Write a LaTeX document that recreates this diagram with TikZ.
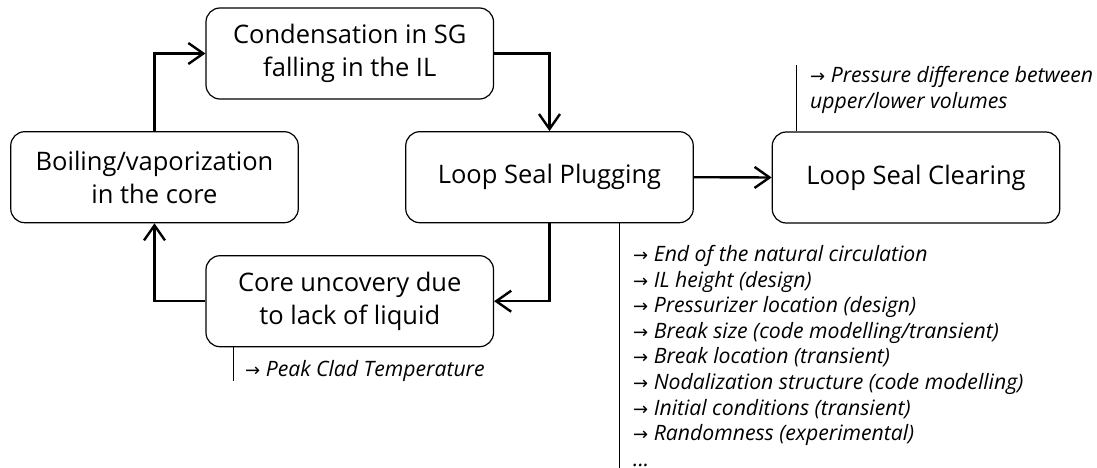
\documentclass[tikz,border=0pt]{standalone}
\usepackage{fontspec}
\setmainfont{Open Sans}
\newfontfamily\arrfont{DejaVu Sans}
\usetikzlibrary{arrows.meta}

\newcommand{\ra}{{\arrfont\upshape\fontsize{18}{18}\selectfont →}}

\begin{document}
\begin{tikzpicture}[x=1pt, y=-1pt,
    box/.style={draw, rounded corners=14pt, line width=1.2pt, minimum width=287.5pt, minimum height=91pt, align=center, inner sep=0pt, font=\fontsize{25.5}{33}\selectfont},
    flow/.style={line width=2.4pt, -{Straight Barb[length=15pt, width=21pt]}},
    note/.style={anchor=north west, align=left, inner sep=0pt, font=\fontsize{21.2}{25.6}\selectfont\itshape},
    tick/.style={line width=0.9pt}]
    \useasboundingbox (0,0) rectangle (1097,468);

    \node[box] (cond) at (349.75,53.5) {Condensation in SG\\falling in the IL};
    \node[box] (boil) at (154.5,177.2) {Boiling/vaporization\\in the core};
    \node[box] (plug) at (549.5,177.2) {Loop Seal Plugging};
    \node[box] (clear) at (916,177.5) {Loop Seal Clearing};
    \node[box] (uncov) at (349.75,301.2) {Core uncovery due\\to lack of liquid};

    % Main loop
    \draw[flow] (boil.north) |- (cond.west);
    \draw[flow] (cond.east) -| (plug.north);
    \draw[flow] (plug.east) -- (clear.west);
    \draw[flow] (plug.south) |- (uncov.east);
    \draw[flow] (uncov.west) -| (boil.south);

    % Notes
    \coordinate (clrend) at (796.5,65);
    \draw[tick] (clear.north -| clrend) -- (clrend);
    \node[note] (clrnote) at (810,66) {\ra\ Pressure difference between\\upper/lower volumes};

    \coordinate (plugend) at (619,468);
    \draw[tick] (plug.south -| plugend) -- (plugend);
    \node[note] (plugnote) at (633,245) {\ra\ End of the natural circulation\\
        \ra\ IL height (design)\\
        \ra\ Pressurizer location (design)\\
        \ra\ Break size (code modelling/transient)\\
        \ra\ Break location (transient)\\
        \ra\ Nodalization structure (code modelling)\\
        \ra\ Initial conditions (transient)\\
        \ra\ Randomness (experimental)\\
        ...};

    \coordinate (uncend) at (233,380.7);
    \draw[tick] (uncov.south -| uncend) -- (uncend);
    \node[note] (uncnote) at (245,360.5) {\ra\ Peak Clad Temperature};
\end{tikzpicture}
\end{document}
